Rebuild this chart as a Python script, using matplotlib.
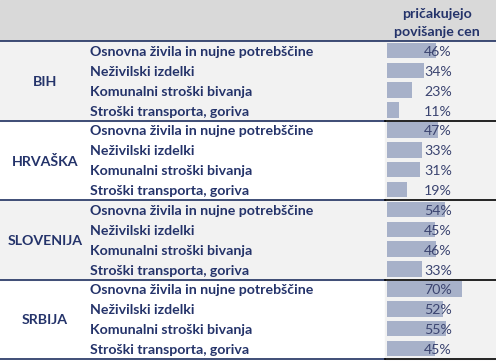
import matplotlib.pyplot as plt
from matplotlib.patches import Rectangle

plt.rcParams['font.family'] = ['Lato', 'DejaVu Sans']

# Podatki
drzave = ['BIH', 'HRVAŠKA', 'SLOVENIJA', 'SRBIJA']
kategorije = ['Osnovna živila in nujne potrebščine', 'Neživilski izdelki',
              'Komunalni stroški bivanja', 'Stroški transporta, goriva']
bih = [46, 34, 23, 11]
hrv = [47, 33, 31, 19]
slo = [54, 45, 46, 33]
srb = [70, 52, 55, 45]
vrednosti = [bih, hrv, slo, srb]
naslov = ['pričakujejo', 'povišanje cen']

W, H = 496, 361
navy = '#1f3060'
txt = '#24336a'
pct_col = '#3b4470'
bar_col = '#a7b1c9'
light = '#f2f2f2'
head = '#d9d9d9'
fs = 10.2

fig = plt.figure(figsize=(W / 100, H / 100), dpi=100)
ax = fig.add_axes([0, 0, 1, 1])
ax.set_xlim(0, W)
ax.set_ylim(H, 0)
ax.axis('off')

top = 41
gh = 79.5
rh = gh / 4
col_x = 385
bar_x0 = 387
px = 1.075  # px na %

# glava
ax.add_patch(Rectangle((0, 0), W, top, color=head, zorder=0))
ax.text(437, 14, naslov[0], ha='center', va='center', fontsize=fs,
        fontweight='bold', color=txt)
ax.text(437, 32, naslov[1], ha='center', va='center', fontsize=fs,
        fontweight='bold', color=txt)

for g, (d, vals) in enumerate(zip(drzave, vrednosti)):
    y0 = top + g * gh
    if g % 2 == 0:
        ax.add_patch(Rectangle((0, y0), W, gh, color=light, zorder=0))
    else:
        ax.add_patch(Rectangle((col_x, y0), W - col_x, gh, color=light, zorder=0))
    ax.text(45, y0 + gh / 2 + 1, d, ha='center', va='center', fontsize=fs,
            fontweight='bold', color=txt)
    yc = [y0 + rh * (i + 0.5) for i in range(4)]
    ax.barh([y - 0.5 for y in yc], [v * px for v in vals], left=bar_x0,
            height=15.5, color=bar_col, zorder=1)
    for i, (k, v) in enumerate(zip(kategorije, vals)):
        ax.text(90, yc[i] + 1, k, ha='left', va='center', fontsize=fs,
                fontweight='bold', color=txt)
        ax.text(452, yc[i] + 1, f'{v}%', ha='right', va='center', fontsize=fs,
                color=pct_col, zorder=2)
    # crte
    yl = y0 + gh
    ax.plot([0, col_x], [yl, yl], color=navy, lw=1.2, zorder=3)
    ax.plot([col_x, W], [yl, yl], color='black', lw=1.2, zorder=3)

ax.plot([0, W], [top, top], color=navy, lw=1.2, zorder=3)

plt.savefig('out.png', dpi=100)
